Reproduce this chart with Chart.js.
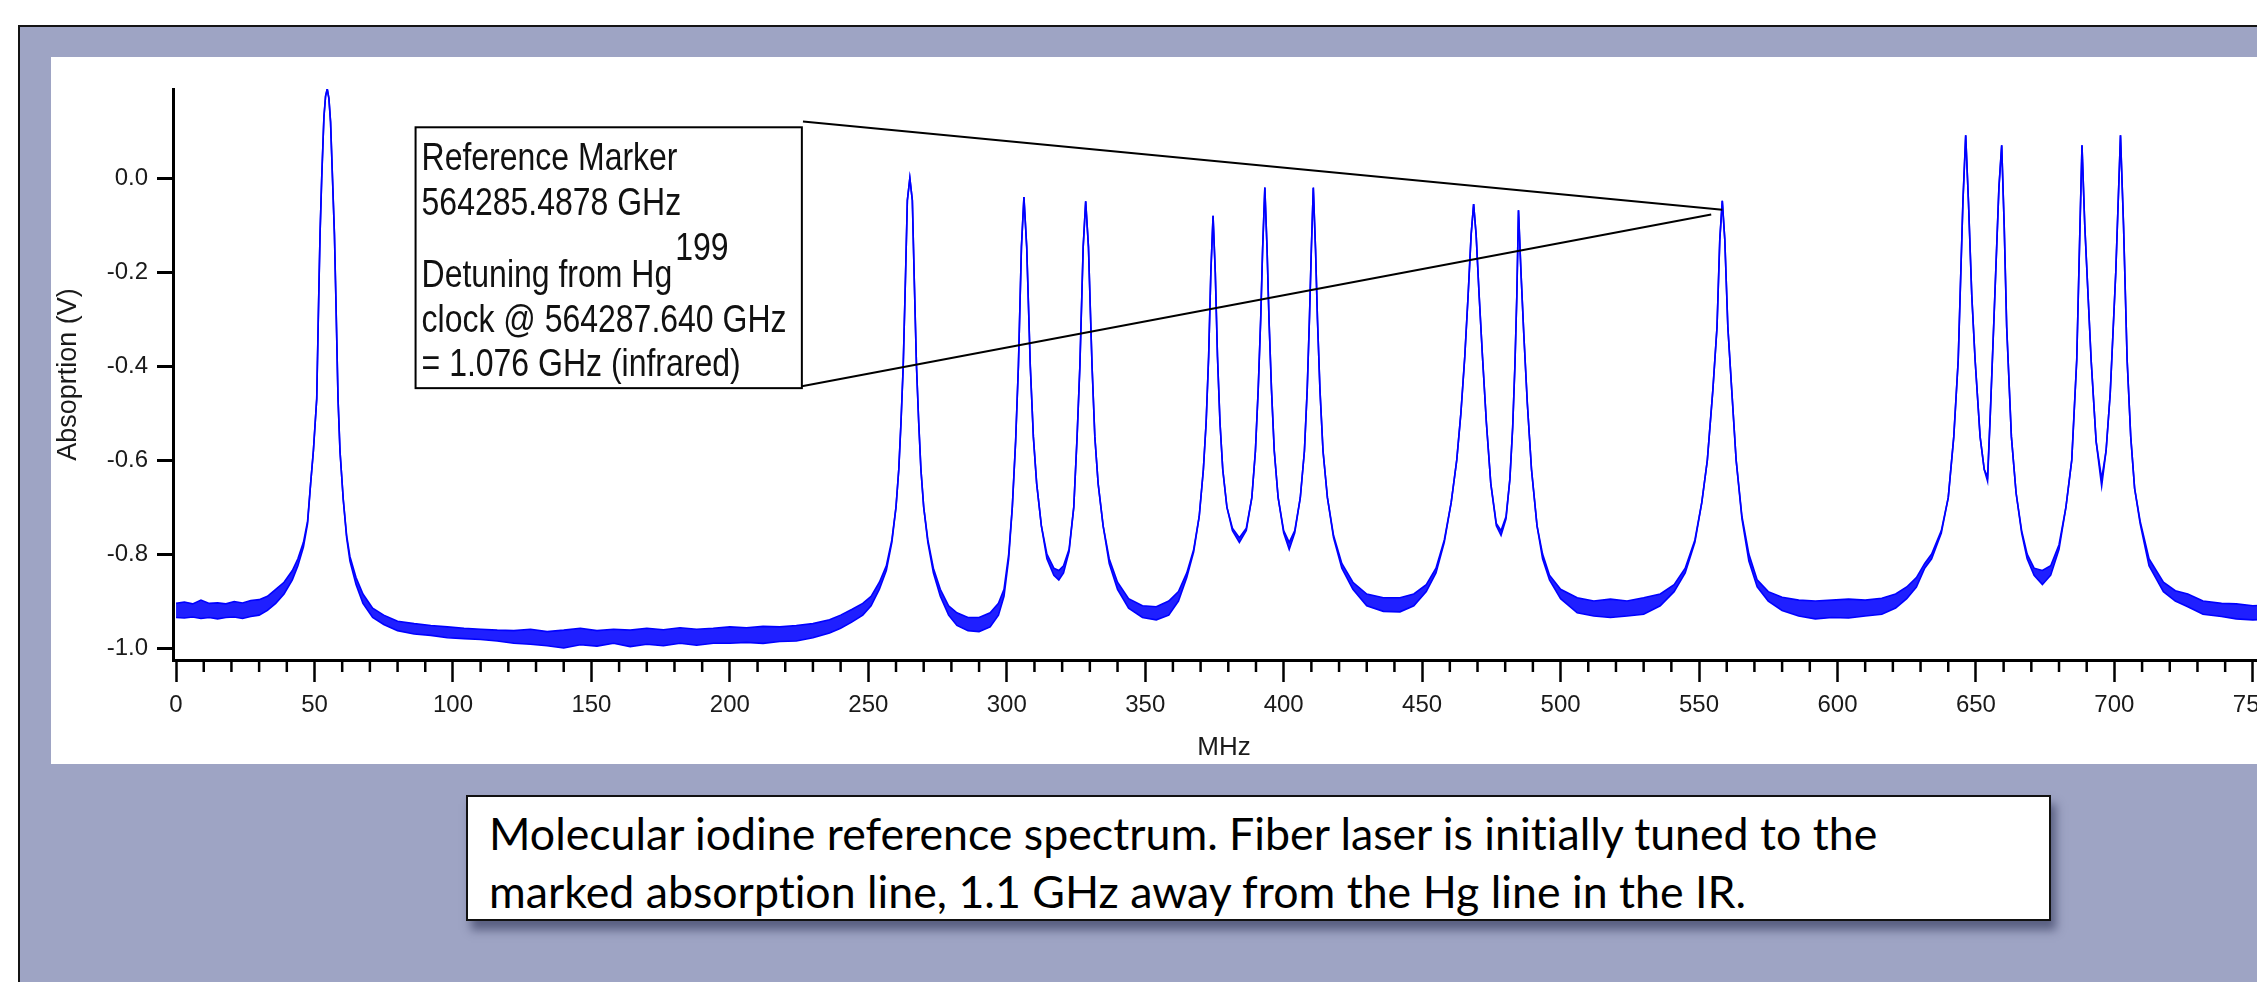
<!DOCTYPE html>
<html>
<head>
<meta charset="utf-8">
<script src="https://cdn.jsdelivr.net/npm/chart.js@4.4.1/dist/chart.umd.min.js"></script>
<style>
  html, body { margin: 0; padding: 0; background: #fff; width: 2257px; height: 982px; overflow: hidden; }
  #frame { position: absolute; left: 18px; top: 25px; width: 2400px; height: 1100px; border: 2px solid #141414; background: #9ea4c4; }
  #panel { position: absolute; left: 51px; top: 57px; width: 2260px; height: 707px; background: #fff; }
  #spectrum { display: block; width: 2260px; height: 707px; }
  #caption { position: absolute; left: 466px; top: 795px; width: 1585px; height: 126px; box-sizing: border-box;
             border: 2px solid #111; background: #fff; box-shadow: 5px 9px 9px rgba(45, 50, 85, 0.6); }
  #captionText { position: absolute; left: 21px; top: 7px; font-family: Lato, "Open Sans", sans-serif; font-size: 44px;
                 line-height: 58px; white-space: nowrap; transform-origin: 0 0; color: #000;
                 font-variant-ligatures: none; font-feature-settings: "liga" 0, "clig" 0; }
</style>
</head>
<body>
<div id="frame"></div>
<div id="panel"><canvas id="spectrum" width="2260" height="707"></canvas></div>
<div id="caption"><div id="captionText">Molecular iodine reference spectrum. Fiber laser is initially tuned to the<br>marked absorption line, 1.1 GHz away from the Hg line in the IR.</div></div>

<script>
// trace: [MHz, upper edge of trace (V), lower edge of trace (V)]
const wingLeft = [
  [0, -0.905, -0.935], [3, -0.902, -0.936], [6, -0.906, -0.934], [9, -0.898, -0.937],
  [12, -0.905, -0.935], [15, -0.904, -0.938], [18, -0.906, -0.935], [21, -0.901, -0.934],
  [24, -0.904, -0.937], [27, -0.899, -0.933], [30, -0.897, -0.930], [33, -0.890, -0.920],
  [36, -0.875, -0.905], [39, -0.860, -0.885], [42, -0.835, -0.855], [44, -0.810, -0.825],
  [46, -0.775, -0.785], [47.5, -0.730, -0.735]
];
const line54 = [
  [48.6, -0.65, -0.65], [49.6, -0.58, -0.58], [50.8, -0.47, -0.47], [51.5, -0.26, -0.26],
  [52.0, -0.12, -0.12], [52.6, 0.0, 0.0], [53.4, 0.13, 0.13], [54.0, 0.175, 0.175],
  [54.6, 0.19, 0.19], [55.2, 0.17, 0.17], [55.8, 0.12, 0.12], [56.5, 0.0, 0.0],
  [57.2, -0.12, -0.12], [57.7, -0.25, -0.25], [58.5, -0.47, -0.47], [59.2, -0.58, -0.58],
  [60.4, -0.685, -0.685], [61.6, -0.76, -0.765], [62.8, -0.805, -0.815], [65, -0.85, -0.865],
  [67.5, -0.885, -0.905], [71, -0.915, -0.935], [75, -0.93, -0.95], [80, -0.943, -0.963],
  [86, -0.948, -0.97], [92, -0.952, -0.973], [98, -0.955, -0.978], [104, -0.958, -0.98],
  [110, -0.96, -0.982], [116, -0.962, -0.985]
];
const floorMid = [
  [122, -0.963, -0.99], [128, -0.96, -0.992], [134, -0.965, -0.995], [140, -0.962, -1.0],
  [146, -0.958, -0.993], [152, -0.963, -0.996], [158, -0.96, -0.99], [164, -0.962, -0.997],
  [170, -0.958, -0.992], [176, -0.961, -0.995], [182, -0.957, -0.99], [188, -0.96, -0.994],
  [194, -0.958, -0.99], [200, -0.955, -0.99], [206, -0.957, -0.988], [212, -0.954, -0.99],
  [218, -0.955, -0.986], [224, -0.952, -0.985], [230, -0.948, -0.978], [236, -0.94, -0.968],
  [240, -0.93, -0.958]
];
const lines265to328 = [
  [244, -0.918, -0.945], [248, -0.905, -0.93], [251, -0.89, -0.91], [254, -0.86, -0.875],
  [256.5, -0.825, -0.835], [258.5, -0.77, -0.775], [260, -0.7, -0.7], [261, -0.62, -0.62],
  [261.8, -0.52, -0.52], [262.6, -0.4, -0.4], [263.4, -0.217, -0.217], [264.1, -0.047, -0.047],
  [265, 0.0, 0.0], [265.9, -0.047, -0.047], [266.6, -0.217, -0.217], [267.4, -0.4, -0.4],
  [268.2, -0.52, -0.52], [269, -0.62, -0.62], [270, -0.7, -0.7], [271.5, -0.77, -0.775],
  [273.5, -0.83, -0.84], [276, -0.875, -0.89], [279, -0.91, -0.93], [282, -0.925, -0.952],
  [286, -0.935, -0.963], [290, -0.935, -0.965], [294, -0.925, -0.955], [297, -0.905, -0.93],
  [299, -0.875, -0.89], [300.7, -0.8, -0.81], [302, -0.7, -0.7], [303.2, -0.56, -0.56],
  [304.2, -0.4, -0.4], [305.3, -0.146, -0.146], [306.2, -0.04, -0.04], [307.2, -0.146, -0.146],
  [308.5, -0.4, -0.4], [309.6, -0.55, -0.55], [310.8, -0.65, -0.65], [312.5, -0.74, -0.74],
  [314.5, -0.8, -0.81], [317, -0.83, -0.845], [318.8, -0.835, -0.855], [320.5, -0.825, -0.84],
  [322.5, -0.79, -0.795], [324.2, -0.7, -0.7], [325.4, -0.55, -0.55], [326.4, -0.4, -0.4],
  [327.6, -0.146, -0.146], [328.5, -0.049, -0.049], [329.5, -0.146, -0.146], [330.8, -0.4, -0.4],
  [331.8, -0.55, -0.55], [333, -0.65, -0.65], [334.8, -0.74, -0.74], [337, -0.81, -0.82],
  [340, -0.86, -0.875], [344, -0.895, -0.915], [349, -0.91, -0.935], [354, -0.912, -0.94],
  [358.5, -0.9, -0.93]
];
const lines374to411 = [
  [362, -0.88, -0.9], [365, -0.84, -0.85], [367.5, -0.79, -0.795], [369.5, -0.72, -0.72],
  [371, -0.62, -0.62], [372, -0.52, -0.52], [372.9, -0.38, -0.38], [373.7, -0.2, -0.2],
  [374.5, -0.08, -0.08], [375.3, -0.2, -0.2], [376.1, -0.38, -0.38], [377, -0.52, -0.52],
  [378, -0.62, -0.62], [379.5, -0.7, -0.7], [381.5, -0.745, -0.75], [384, -0.765, -0.775],
  [386.5, -0.745, -0.75], [388.5, -0.68, -0.68], [389.8, -0.58, -0.58], [390.8, -0.45, -0.45],
  [391.7, -0.3, -0.3], [392.4, -0.15, -0.15], [393.2, -0.02, -0.02], [394, -0.15, -0.15],
  [394.7, -0.3, -0.3], [395.6, -0.45, -0.45], [396.6, -0.58, -0.58], [398, -0.68, -0.68],
  [400, -0.75, -0.755], [402, -0.775, -0.79], [404, -0.75, -0.755], [406, -0.68, -0.68],
  [407.5, -0.58, -0.58], [408.5, -0.45, -0.45], [409.3, -0.3, -0.3], [410, -0.15, -0.15],
  [410.7, -0.02, -0.02], [411.5, -0.15, -0.15], [412.2, -0.3, -0.3], [413.1, -0.45, -0.45],
  [414.2, -0.58, -0.58], [415.8, -0.68, -0.68], [418, -0.76, -0.765], [421, -0.82, -0.83],
  [425, -0.86, -0.875], [430, -0.885, -0.91], [436, -0.893, -0.922], [442, -0.893, -0.923],
  [447, -0.885, -0.91], [451.5, -0.865, -0.88]
];
const lines469to485 = [
  [455, -0.83, -0.84], [458, -0.77, -0.775], [460.5, -0.69, -0.69], [462.5, -0.6, -0.6],
  [464, -0.5, -0.5], [465.4, -0.38, -0.38], [466.6, -0.25, -0.25], [467.7, -0.12, -0.12],
  [468.6, -0.055, -0.055], [469.5, -0.12, -0.12], [470.6, -0.25, -0.25], [471.8, -0.38, -0.38],
  [473.2, -0.52, -0.52], [474.8, -0.65, -0.65], [476.8, -0.735, -0.74], [478.5, -0.75, -0.76],
  [480.3, -0.72, -0.725], [481.7, -0.64, -0.64], [482.7, -0.53, -0.53], [483.5, -0.4, -0.4],
  [484.2, -0.25, -0.25], [484.8, -0.068, -0.068], [485.7, -0.2, -0.2], [486.7, -0.33, -0.33],
  [488, -0.48, -0.48], [489.5, -0.62, -0.62], [491.5, -0.74, -0.74], [493.5, -0.8, -0.81],
  [496, -0.845, -0.855], [500, -0.875, -0.895], [506, -0.893, -0.925], [512, -0.9, -0.932],
  [518, -0.896, -0.935], [524, -0.9, -0.932], [530, -0.893, -0.928], [536, -0.885, -0.91],
  [541, -0.865, -0.88]
];
const markerLine558 = [
  [545, -0.83, -0.84], [548.5, -0.77, -0.775], [551, -0.69, -0.69], [553, -0.6, -0.6],
  [555, -0.45, -0.45], [556.5, -0.316, -0.316], [557.5, -0.13, -0.13], [558.4, -0.048, -0.048],
  [559.3, -0.13, -0.13], [560.4, -0.316, -0.316], [561.8, -0.45, -0.45], [563.4, -0.6, -0.6],
  [565.5, -0.72, -0.725], [568, -0.8, -0.815], [571, -0.855, -0.87], [575, -0.88, -0.9],
  [580, -0.892, -0.92], [586, -0.898, -0.932], [592, -0.9, -0.938], [598, -0.898, -0.935],
  [604, -0.896, -0.936], [610, -0.898, -0.932], [616, -0.894, -0.928], [621, -0.885, -0.915],
  [625, -0.87, -0.895], [628.5, -0.85, -0.87], [631.5, -0.82, -0.83]
];
const lines646to702 = [
  [634, -0.8, -0.81], [637.5, -0.75, -0.755], [640, -0.68, -0.68], [642, -0.55, -0.55],
  [643.6, -0.387, -0.387], [645.3, -0.05, -0.05], [646.3, 0.0915, 0.0915], [647.3, -0.05, -0.05],
  [648.5, -0.25, -0.25], [649.7, -0.387, -0.387], [651.5, -0.55, -0.55], [653, -0.62, -0.62],
  [654.2, -0.635, -0.645], [655.2, -0.5, -0.5], [656.5, -0.3, -0.3], [658.3, -0.02, -0.02],
  [659.3, 0.07, 0.07], [660.2, -0.1, -0.1], [661.1, -0.316, -0.316], [662.8, -0.55, -0.55],
  [664.5, -0.67, -0.67], [666.5, -0.75, -0.755], [668.5, -0.8, -0.81], [671, -0.83, -0.845],
  [674, -0.835, -0.865], [677, -0.825, -0.845], [680, -0.78, -0.79], [682.5, -0.7, -0.7],
  [684.6, -0.6, -0.6], [686.4, -0.387, -0.387], [687.5, -0.12, -0.12], [688.3, 0.07, 0.07],
  [689.3, -0.1, -0.1], [690.5, -0.25, -0.25], [691.6, -0.387, -0.387], [693.4, -0.56, -0.56],
  [695.4, -0.64, -0.655], [697, -0.58, -0.58], [698.5, -0.457, -0.457], [700.5, -0.2, -0.2],
  [702.2, 0.0915, 0.0915], [703.3, -0.1, -0.1], [704.6, -0.387, -0.387], [705.9, -0.55, -0.55],
  [707.3, -0.66, -0.66], [709.3, -0.73, -0.735], [712.5, -0.81, -0.825], [717.7, -0.86, -0.88],
  [722, -0.878, -0.9], [726.5, -0.885, -0.912], [732, -0.9, -0.928], [738.7, -0.905, -0.933],
  [744, -0.906, -0.938], [750, -0.91, -0.94], [758, -0.908, -0.938]
];

const xRange = [-1.1, 758];
const yRange = [-1.0255, 0.19];
const xMinorStep = 10;
const xLabelStep = 50;
const yStep = 0.2;

const markerPeak = [558.4, -0.048];
const noteText = ['Reference Marker', '564285.4878 GHz', 'Detuning from Hg', 'clock @ 564287.640 GHz', '= 1.076 GHz (infrared)'];
const noteSup = '199';

const traceRows = [...wingLeft, ...line54, ...floorMid, ...lines265to328, ...lines374to411,
                   ...lines469to485, ...markerLine558, ...lines646to702];

// find a condensed face like the one in the figure
function pickFont(list) {
  const c = document.createElement('canvas').getContext('2d');
  const s = 'Reference Marker 0123456789 GHz';
  c.font = '40px monospace';
  const base = c.measureText(s).width;
  for (const f of list) {
    c.font = `40px "${f}", monospace`;
    if (Math.abs(c.measureText(s).width - base) > 1) return f;
  }
  return null;
}
const narrowFamily = pickFont(['Liberation Sans Narrow', 'Arial Narrow']);
const tickFamily = narrowFamily ? `"${narrowFamily}"` : '"Liberation Sans", Arial, sans-serif';
const tickSize = narrowFamily ? 27 : 24;

function drawNarrow(c, text, x, y, size) {
  c.save();
  c.translate(x, y);
  let k = 1;
  if (narrowFamily) {
    c.font = `${size}px "${narrowFamily}"`;
  } else {
    c.font = `${size}px "Liberation Sans", Arial, sans-serif`;
    k = 0.82;
    c.scale(k, 1);
  }
  c.fillText(text, 0, 0);
  const w = c.measureText(text).width * k;
  c.restore();
  return w;
}

const blue = '#0000ff';

const minorTicks = {
  id: 'minorTicks',
  afterDraw(chart) {
    const xs = chart.scales.x, c = chart.ctx;
    c.save();
    c.strokeStyle = '#000';
    c.lineWidth = 2.5;
    xs.ticks.forEach(t => {
      if (t.value % xLabelStep === 0) return;
      const p = xs.getPixelForValue(t.value);
      c.beginPath();
      c.moveTo(p, xs.top);
      c.lineTo(p, xs.top + 12);
      c.stroke();
    });
    c.restore();
  }
};

const markerNote = {
  id: 'markerNote',
  afterDraw(chart) {
    const xs = chart.scales.x, ys = chart.scales.y, c = chart.ctx;
    const px = v => xs.getPixelForValue(v);
    const py = v => ys.getPixelForValue(v);
    const L = px(86.5), R = px(226), T = py(0.1085), B = py(-0.4468);
    c.save();
    c.strokeStyle = '#000';
    c.lineWidth = 2;
    c.beginPath();
    c.moveTo(px(226.4), py(0.121));
    c.lineTo(px(markerPeak[0]), py(markerPeak[1] - 0.019));
    c.moveTo(R, B - 2);
    c.lineTo(px(markerPeak[0] - 4), py(markerPeak[1] - 0.029));
    c.stroke();
    c.fillStyle = '#fff';
    c.fillRect(L, T, R - L, B - T);
    c.strokeRect(L, T, R - L, B - T);
    c.fillStyle = '#111';
    c.textBaseline = 'alphabetic';
    c.textAlign = 'left';
    const tx = L + 6;
    drawNarrow(c, noteText[0], tx, T + 43, 39);
    drawNarrow(c, noteText[1], tx, T + 88, 39);
    const w = drawNarrow(c, noteText[2], tx, T + 160, 39);
    drawNarrow(c, noteSup, tx + w + 3, T + 133, 39);
    drawNarrow(c, noteText[3], tx, T + 205, 39);
    drawNarrow(c, noteText[4], tx, T + 249, 39);
    c.restore();
  }
};

const ctx = document.getElementById('spectrum').getContext('2d');
new Chart(ctx, {
  type: 'line',
  data: {
    datasets: [
      {
        label: 'upper',
        data: traceRows.map(r => ({ x: r[0], y: r[1] })),
        borderColor: blue, borderWidth: 1.6, pointRadius: 0, tension: 0, fill: false
      },
      {
        label: 'lower',
        data: traceRows.map(r => ({ x: r[0], y: r[2] })),
        borderColor: blue, borderWidth: 1.6, pointRadius: 0, tension: 0,
        fill: '-1', backgroundColor: 'rgba(0,0,255,0.88)'
      }
    ]
  },
  options: {
    responsive: false,
    maintainAspectRatio: false,
    animation: false,
    devicePixelRatio: 1,
    layout: { padding: { top: 32, right: 36, left: 0, bottom: 0 } },
    plugins: { legend: { display: false }, tooltip: { enabled: false } },
    scales: {
      x: {
        type: 'linear', position: 'bottom', min: xRange[0], max: xRange[1],
        afterFit: s => { s.height = 104; },
        border: { display: true, color: '#000', width: 3 },
        grid: {
          drawOnChartArea: false, drawTicks: true, tickLength: 22, tickWidth: 2.5,
          tickColor: c => (c.tick && c.tick.value % xLabelStep === 0) ? '#000' : 'rgba(0,0,0,0)'
        },
        ticks: {
          stepSize: xMinorStep, autoSkip: false, maxRotation: 0, includeBounds: false, padding: 9,
          color: '#1a1a1a', font: { family: tickFamily, size: tickSize },
          callback: v => (v % xLabelStep === 0 ? String(v) : '')
        },
        title: {
          display: true, text: 'MHz', color: '#1a1a1a',
          font: { family: tickFamily, size: 26 }, padding: { top: 0, bottom: 1 }
        }
      },
      y: {
        min: yRange[0], max: yRange[1],
        afterFit: s => { s.width = 122; },
        border: { display: true, color: '#000', width: 3 },
        grid: { drawOnChartArea: false, drawTicks: true, tickLength: 16, tickWidth: 3, tickColor: '#000' },
        ticks: {
          stepSize: yStep, includeBounds: false, padding: 9,
          color: '#1a1a1a', font: { family: tickFamily, size: tickSize },
          callback: v => (Math.abs(v) < 1e-9 ? '0.0' : v.toFixed(1))
        },
        title: {
          display: true, text: 'Absoprtion (V)', color: '#1a1a1a',
          font: { family: '"Liberation Sans", Arial, sans-serif', size: 27 }, padding: { top: 1, bottom: 0 }
        }
      }
    }
  },
  plugins: [minorTicks, markerNote]
});

// squeeze the caption to the width of the original text block
const capText = document.getElementById('captionText');
const mc = document.createElement('canvas').getContext('2d');
mc.font = getComputedStyle(capText).fontSize + ' ' + getComputedStyle(capText).fontFamily;
const firstLine = 'Molecular iodine reference spectrum. Fiber laser is initially tuned to the';
const k = 1393 / mc.measureText(firstLine).width;
capText.style.transform = `scaleX(${k.toFixed(4)})`;
</script>
</body>
</html>
